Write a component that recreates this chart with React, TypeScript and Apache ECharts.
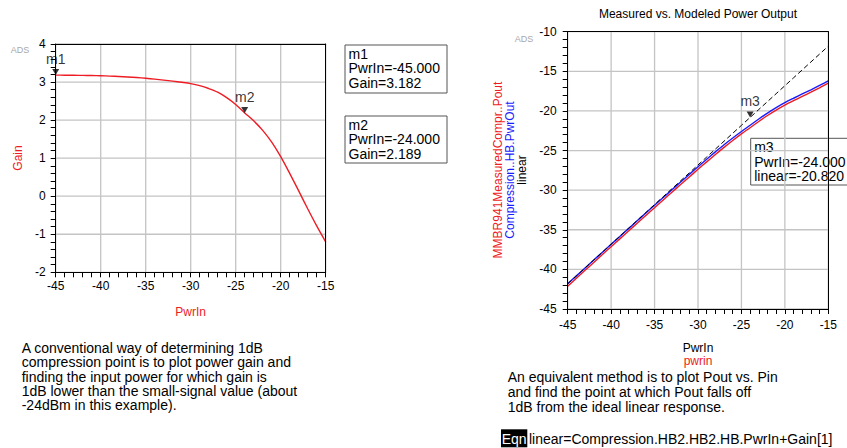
import React, { useEffect, useRef } from "react";
import * as echarts from "echarts";

// Swept input power (dBm)
const pwrIn = [
  -45, -44, -43, -42, -41, -40, -39, -38, -37, -36, -35, -34, -33, -32, -31, -30,
  -29, -28, -27, -26, -25, -24, -23, -22, -21, -20, -19, -18, -17, -16, -15,
];
// Simulated power gain (dB)
const gain = [
  3.182, 3.18, 3.178, 3.175, 3.171, 3.165, 3.157, 3.147, 3.134, 3.118, 3.099, 3.077,
  3.052, 3.024, 2.993, 2.958, 2.905, 2.83, 2.735, 2.59, 2.41, 2.189, 1.98, 1.73, 1.42,
  1.04, 0.6, 0.14, -0.33, -0.78, -1.2,
];
// Simulated output power, Compression..HB.PwrOut (dBm)
const simulatedPout = [
  -41.818, -40.82, -39.822, -38.825, -37.829, -36.835, -35.843, -34.853, -33.866,
  -32.882, -31.901, -30.923, -29.948, -28.976, -28.007, -27.042, -26.095, -25.17,
  -24.265, -23.41, -22.59, -21.811, -21.02, -20.27, -19.58, -18.96, -18.4, -17.86,
  -17.33, -16.78, -16.2,
];
// Measured output power, MMBR941MeasuredCompr..Pout (dBm)
const measuredPout = [
  -42.12, -41.11, -40.12, -39.13, -38.12, -37.14, -36.15, -35.16, -34.17, -33.19,
  -32.21, -31.23, -30.26, -29.29, -28.33, -27.37, -26.43, -25.5, -24.6, -23.73, -22.9,
  -22.12, -21.33, -20.58, -19.89, -19.27, -18.71, -18.17, -17.64, -17.09, -16.5,
];
// Ideal linear response: linear = PwrIn + Gain[1] (zero-based index, as in the equation)
const linear = pwrIn.map((p) => p + gain[1]);

// Markers
const gainMarkers = [
  { name: "m1", at: -45 },
  { name: "m2", at: -24 },
];
const powerMarkers = [{ name: "m3", at: -24 }];

// Major tick values (labels and grid lines)
const pwrInTicks = [-45, -40, -35, -30, -25, -20, -15];
const gainTicks = [-2, -1, 0, 1, 2, 3, 4];
const poutTicks = [-45, -40, -35, -30, -25, -20, -15, -10];

const FONT = "'Liberation Sans', Arial, Helvetica, sans-serif";
const RED = "#ee1c24";
const BLUE = "#1a1aff";
const GRID_GRAY = "#c4c4c4";

const leftNote =
  "A conventional way of determining 1dB\ncompression point is to plot power gain and\nfinding the input power for which gain is\n1dB lower than the small-signal value (about\n-24dBm in this example).";
const rightNote =
  "An equivalent method is to plot Pout vs. Pin\nand find the point at which Pout falls off\n1dB from the ideal linear response.";
const equation = "linear=Compression.HB2.HB2.HB.PwrIn+Gain[1]";

function pairs(xs: number[], ys: number[]) {
  return xs.map((x, i) => [x, ys[i]]);
}

function valueAt(xs: number[], ys: number[], x: number) {
  return ys[xs.indexOf(x)];
}

function range(ticks: number[]) {
  return {
    min: ticks[0],
    max: ticks[ticks.length - 1],
    interval: ticks[1] - ticks[0],
  };
}

// Axis with labels, major ticks and minor ticks
function mainAxis(grid: number, ticks: number[], margin: number) {
  return {
    gridIndex: grid,
    type: "value",
    ...range(ticks),
    axisLine: { show: true, onZero: false, lineStyle: { color: "#000", width: 1 } },
    axisTick: { show: true, length: 5, lineStyle: { color: "#000", width: 1 } },
    minorTick: { show: true, splitNumber: 5, length: 5, lineStyle: { color: "#000", width: 1 } },
    axisLabel: { color: "#000", fontSize: 12, fontFamily: FONT, margin },
    splitLine: { show: false },
    z: 10,
  };
}

// Plain line on the opposite side that closes the plot frame
function frameAxis(grid: number, ticks: number[], position: string) {
  return {
    gridIndex: grid,
    type: "value",
    position,
    ...range(ticks),
    axisLine: { show: true, onZero: false, lineStyle: { color: "#000", width: 1 } },
    axisTick: { show: false },
    axisLabel: { show: false },
    splitLine: { show: false },
    z: 20,
  };
}

// Grid lines at the major ticks, placed through the axis scales
function gridLines(xi: number, yi: number, xTicks: number[], yTicks: number[]) {
  const x0 = xTicks[0];
  const y0 = yTicks[0];
  const data = [
    ...xTicks.map((v) => [v, y0, 0]),
    ...yTicks.map((v) => [x0, v, 1]),
  ];
  return {
    type: "custom",
    xAxisIndex: xi,
    yAxisIndex: yi,
    silent: true,
    z: 1,
    clip: false,
    encode: { x: 0, y: 1 },
    data,
    renderItem: (params: any, api: any) => {
      const rect = params.coordSys;
      const pt = api.coord([api.value(0), api.value(1)]);
      const horizontal = api.value(2) === 1;
      const shape = horizontal
        ? { x1: rect.x, y1: pt[1], x2: rect.x + rect.width, y2: pt[1] }
        : { x1: pt[0], y1: rect.y, x2: pt[0], y2: rect.y + rect.height };
      return {
        type: "line",
        shape,
        style: { stroke: GRID_GRAY, lineWidth: 1.3, fill: null },
      };
    },
  };
}

function markerSeries(xi: number, yi: number, items: { name: string; at: number }[], ys: number[]) {
  return {
    type: "scatter",
    xAxisIndex: xi,
    yAxisIndex: yi,
    symbol: "triangle",
    symbolRotate: 180,
    symbolSize: [7, 6],
    symbolOffset: [0, -3],
    itemStyle: { color: "#000" },
    label: {
      show: true,
      position: "top",
      distance: 3,
      formatter: (p: any) => p.name,
      color: "#000",
      fontSize: 14,
      fontFamily: FONT,
    },
    z: 5,
    clip: false,
    data: items.map((m) => ({ name: m.name, value: [m.at, valueAt(pwrIn, ys, m.at)] })),
  };
}

function markerBox(x: number, y: number, w: number, h: number, lines: string[]) {
  return [
    {
      type: "rect",
      shape: { x, y, width: w, height: h },
      style: { fill: "#fff", stroke: "#555", lineWidth: 1 },
      z: 0,
    },
    {
      type: "text",
      x: x + 3.5,
      y: y + 1.5,
      style: {
        text: lines.join("\n"),
        fill: "#000",
        fontSize: 14,
        fontFamily: FONT,
        lineHeight: 14.5,
        textVerticalAlign: "top",
      },
      z: 1,
    },
  ];
}

function curve(xi: number, yi: number, ys: number[], color: string) {
  return {
    type: "line",
    xAxisIndex: xi,
    yAxisIndex: yi,
    data: pairs(pwrIn, ys),
    showSymbol: false,
    smooth: 0.3,
    lineStyle: { color, width: 1.4 },
    z: 3,
  };
}

export default function App() {
  const ref = useRef<HTMLDivElement>(null);

  useEffect(() => {
    if (!ref.current) return;
    const chart = echarts.init(ref.current, undefined, { renderer: "svg" });

    const m1 = gainMarkers[0];
    const m2 = gainMarkers[1];
    const m3 = powerMarkers[0];

    const option: any = {
      animation: false,
      backgroundColor: "#fff",
      grid: [
        { left: 55.7, top: 44, width: 270, height: 228.3, show: false },
        { left: 567.7, top: 31.7, width: 260.6, height: 277.3, show: false },
      ],
      xAxis: [
        mainAxis(0, pwrInTicks, 8),
        mainAxis(1, pwrInTicks, 10),
        frameAxis(0, pwrInTicks, "top"),
        frameAxis(1, pwrInTicks, "top"),
      ],
      yAxis: [
        mainAxis(0, gainTicks, 10),
        mainAxis(1, poutTicks, 11),
        frameAxis(0, gainTicks, "right"),
        frameAxis(1, poutTicks, "right"),
      ],
      series: [
        gridLines(0, 0, pwrInTicks, gainTicks),
        gridLines(1, 1, pwrInTicks, poutTicks),
        curve(0, 0, gain, RED),
        markerSeries(0, 0, gainMarkers, gain),
        curve(1, 1, measuredPout, RED),
        curve(1, 1, simulatedPout, BLUE),
        {
          type: "line",
          xAxisIndex: 1,
          yAxisIndex: 1,
          data: pairs(pwrIn, linear),
          showSymbol: false,
          lineStyle: { color: "#000", width: 1, type: [5, 3] },
          z: 4,
        },
        markerSeries(1, 1, powerMarkers, linear),
      ],
      graphic: [
        // ADS badges
        { type: "text", x: 20, y: 50, style: { text: "ADS", fill: "#a8a8a8", fontSize: 9, fontFamily: FONT, textAlign: "center", textVerticalAlign: "middle" } },
        { type: "text", x: 524, y: 39, style: { text: "ADS", fill: "#a8a8a8", fontSize: 9, fontFamily: FONT, textAlign: "center", textVerticalAlign: "middle" } },
        // Gain plot axis titles
        { type: "text", x: 17.5, y: 158, rotation: Math.PI / 2, style: { text: "Gain", fill: RED, fontSize: 12, fontFamily: FONT, textAlign: "center", textVerticalAlign: "middle" } },
        { type: "text", x: 190.7, y: 312.3, style: { text: "PwrIn", fill: RED, fontSize: 12, fontFamily: FONT, textAlign: "center", textVerticalAlign: "middle" } },
        // Power plot title and axis titles
        { type: "text", x: 698, y: 14, style: { text: "Measured vs. Modeled Power Output", fill: "#000", fontSize: 12, fontFamily: FONT, textAlign: "center", textVerticalAlign: "middle" } },
        { type: "text", x: 498, y: 170, rotation: Math.PI / 2, style: { text: "MMBR941MeasuredCompr..Pout", fill: RED, fontSize: 12, fontFamily: FONT, textAlign: "center", textVerticalAlign: "middle" } },
        { type: "text", x: 510, y: 170, rotation: Math.PI / 2, style: { text: "Compression..HB.PwrOut", fill: BLUE, fontSize: 12, fontFamily: FONT, textAlign: "center", textVerticalAlign: "middle" } },
        { type: "text", x: 521.5, y: 170, rotation: Math.PI / 2, style: { text: "linear", fill: "#000", fontSize: 12, fontFamily: FONT, textAlign: "center", textVerticalAlign: "middle" } },
        { type: "text", x: 698, y: 348, style: { text: "PwrIn", fill: "#000", fontSize: 12, fontFamily: FONT, textAlign: "center", textVerticalAlign: "middle" } },
        { type: "text", x: 698, y: 361, style: { text: "pwrin", fill: RED, fontSize: 12, fontFamily: FONT, textAlign: "center", textVerticalAlign: "middle" } },
        // Marker readouts
        ...markerBox(345, 45, 102, 48, [
          m1.name,
          `PwrIn=${m1.at.toFixed(3)}`,
          `Gain=${valueAt(pwrIn, gain, m1.at).toFixed(3)}`,
        ]),
        ...markerBox(345, 116, 102, 47, [
          m2.name,
          `PwrIn=${m2.at.toFixed(3)}`,
          `Gain=${valueAt(pwrIn, gain, m2.at).toFixed(3)}`,
        ]),
        ...markerBox(750.7, 138.3, 104, 46.7, [
          m3.name,
          `PwrIn=${m3.at.toFixed(3)}`,
          `linear=${valueAt(pwrIn, linear, m3.at).toFixed(3)}`,
        ]),
        // Notes
        { type: "text", x: 21.7, y: 340.5, style: { text: leftNote, fill: "#000", fontSize: 14, fontFamily: FONT, lineHeight: 14.4, textVerticalAlign: "top" } },
        { type: "text", x: 507.7, y: 369.2, style: { text: rightNote, fill: "#000", fontSize: 14, fontFamily: FONT, lineHeight: 15, textVerticalAlign: "top" } },
        // Equation block
        { type: "rect", shape: { x: 501, y: 429.3, width: 26.3, height: 18 }, style: { fill: "#000" } },
        { type: "text", x: 514.2, y: 438.5, style: { text: "Eqn", fill: "#fff", fontSize: 14, fontFamily: FONT, textAlign: "center", textVerticalAlign: "middle" } },
        { type: "text", x: 529, y: 439, style: { text: equation, fill: "#000", fontSize: 14, fontFamily: FONT, textVerticalAlign: "middle" } },
      ],
    };

    chart.setOption(option);
    return () => chart.dispose();
  }, []);

  return (
    <div
      ref={ref}
      style={{ position: "fixed", left: 0, top: 0, width: 847, height: 448, background: "#fff" }}
    />
  );
}
